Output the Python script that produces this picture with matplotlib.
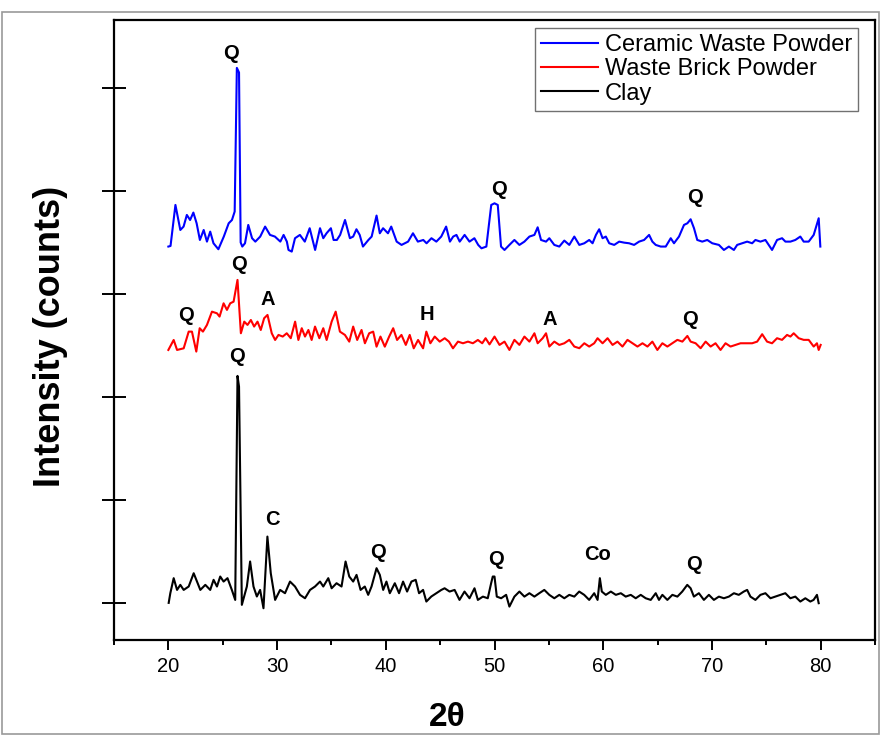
"""
XRD patterns of ceramic waste powder, waste brick powder and clay.
"""

import matplotlib
matplotlib.use('Agg')
import matplotlib.pyplot as plt
from matplotlib.patches import Rectangle
from matplotlib.ticker import MultipleLocator

plt.rcParams['font.family'] = ['Liberation Sans', 'DejaVu Sans']

# Ceramic Waste Powder (stacked on top)
cwp_2theta = [
    20.0, 20.2, 20.65, 21.1, 21.4, 21.7, 22.0, 22.3, 22.6, 22.9, 23.25, 23.55,
    23.85, 24.15, 24.6, 25.1, 25.55, 25.85, 26.1, 26.3, 26.5, 26.65, 26.8,
    27.05, 27.35, 27.7, 28.0, 28.45, 28.9, 29.35, 29.8, 30.3, 30.6, 30.9,
    31.05, 31.35, 31.65, 32.1, 32.55, 33.0, 33.5, 33.95, 34.25, 34.55, 34.95,
    35.2, 35.5, 35.8, 36.25, 36.7, 37.0, 37.3, 37.6, 37.9, 38.4, 38.7, 39.15,
    39.45, 39.75, 40.2, 40.5, 41.0, 41.45, 42.05, 42.5, 42.95, 43.45, 43.75,
    44.2, 44.65, 45.1, 45.55, 45.9, 46.2, 46.5, 46.8, 47.25, 47.7, 48.15,
    48.5, 48.8, 49.25, 49.7, 50.0, 50.3, 50.6, 50.92, 51.37, 51.83, 52.29,
    52.75, 53.21, 53.67, 53.97, 54.28, 54.74, 55.04, 55.5, 55.96, 56.42,
    56.88, 57.34, 57.8, 58.26, 58.71, 59.02, 59.33, 59.63, 59.94, 60.24,
    60.55, 61.01, 61.47, 61.93, 62.38, 62.84, 63.3, 63.76, 64.22, 64.52,
    64.83, 65.29, 65.75, 66.21, 66.51, 66.97, 67.43, 67.74, 68.04, 68.35,
    68.65, 69.11, 69.57, 70.03, 70.64, 71.1, 71.56, 72.02, 72.32, 72.78,
    73.24, 73.7, 74.0, 74.46, 74.92, 75.53, 75.99, 76.45, 76.76, 77.22,
    77.67, 78.13, 78.44, 78.9, 79.36, 79.82, 79.97,
]
cwp_counts = [
    3460, 3466, 3864, 3621, 3654, 3767, 3718, 3790, 3686, 3524, 3621, 3508,
    3605, 3492, 3434, 3557, 3686, 3718, 3800, 5195, 5150, 3500, 3460,
    3492, 3670, 3541, 3508, 3557, 3654, 3573, 3557, 3508, 3573, 3508,
    3427, 3411, 3541, 3573, 3508, 3638, 3427, 3638, 3541, 3589, 3638,
    3524, 3524, 3573, 3718, 3541, 3557, 3628, 3573, 3460, 3524, 3557, 3761,
    3589, 3638, 3589, 3654, 3508, 3476, 3508, 3589, 3508, 3524, 3492,
    3541, 3508, 3557, 3654, 3508, 3557, 3573, 3508, 3573, 3508, 3541,
    3476, 3443, 3460, 3864, 3880, 3864, 3460, 3427, 3476, 3524, 3476,
    3508, 3557, 3573, 3647, 3524, 3508, 3541, 3476, 3460, 3518,
    3476, 3557, 3476, 3492, 3524, 3492, 3573, 3628, 3541, 3557,
    3492, 3476, 3508, 3498, 3492, 3476, 3508, 3524, 3573, 3508,
    3476, 3460, 3460, 3541, 3492, 3557, 3670, 3686, 3725, 3638,
    3524, 3508, 3524, 3492, 3476, 3427, 3460, 3427, 3476, 3492,
    3508, 3492, 3524, 3508, 3524, 3427, 3524, 3541, 3508, 3508,
    3524, 3557, 3508, 3508, 3573, 3735, 3460,
]

# Waste Brick Powder (middle)
wbp_2theta = [
    20.0, 20.49, 20.8, 21.41, 21.87, 22.17, 22.57, 22.88, 23.18, 23.55, 24.01,
    24.47, 24.71, 25.08, 25.39, 25.69, 26.0, 26.36, 26.67, 26.98, 27.28,
    27.59, 27.89, 28.2, 28.5, 28.81, 29.12, 29.51, 29.82, 30.13, 30.52,
    30.89, 31.26, 31.66, 31.96, 32.27, 32.57, 32.88, 33.18, 33.49, 33.89,
    34.25, 34.56, 35.02, 35.39, 35.78, 36.24, 36.64, 37.0, 37.37, 37.77,
    38.08, 38.47, 38.84, 39.15, 39.51, 39.91, 40.31, 40.68, 41.04, 41.44,
    41.84, 42.2, 42.57, 42.97, 43.43, 43.73, 44.1, 44.5, 44.96, 45.42,
    45.81, 46.18, 46.64, 47.1, 47.56, 48.01, 48.47, 48.87, 49.18, 49.54,
    50.0, 50.46, 50.92, 51.37, 51.83, 52.29, 52.75, 53.21, 53.67, 53.97,
    54.43, 54.74, 55.04, 55.5, 55.96, 56.42, 56.88, 57.34, 57.8, 58.26,
    58.71, 59.17, 59.48, 59.94, 60.4, 60.86, 61.31, 61.77, 62.23, 62.69,
    63.15, 63.61, 64.07, 64.52, 64.98, 65.44, 65.9, 66.36, 66.82, 67.28,
    67.74, 68.04, 68.5, 68.96, 69.42, 69.88, 70.33, 70.79, 71.25, 71.71,
    72.17, 72.63, 73.09, 73.7, 74.16, 74.62, 75.07, 75.53, 75.99, 76.45,
    76.91, 77.22, 77.52, 77.98, 78.44, 78.9, 79.36, 79.66, 79.82, 80.0,
]
wbp_counts = [
    2456, 2553, 2456, 2472, 2634, 2634, 2440, 2667, 2634, 2699, 2828,
    2812, 2780, 2909, 2845, 2909, 2925, 3136, 2618, 2731, 2699,
    2747, 2683, 2731, 2650, 2764, 2796, 2618, 2553, 2602, 2586,
    2618, 2570, 2731, 2553, 2667, 2586, 2650, 2553, 2683, 2570,
    2667, 2553, 2731, 2828, 2634, 2602, 2537, 2683, 2553, 2650,
    2521, 2618, 2634, 2488, 2586, 2488, 2586, 2667, 2553, 2602,
    2505, 2602, 2472, 2553, 2472, 2634, 2521, 2586, 2537, 2570,
    2537, 2472, 2537, 2521, 2537, 2521, 2553, 2521, 2570, 2510,
    2586, 2505, 2537, 2456, 2554, 2505, 2586, 2537, 2618, 2521,
    2570, 2618, 2489, 2537, 2505, 2521, 2554, 2489, 2473, 2521,
    2489, 2521, 2570, 2521, 2570, 2505, 2537, 2489, 2554, 2521,
    2489, 2521, 2489, 2537, 2456, 2521, 2489, 2521, 2554, 2537,
    2592, 2537, 2521, 2473, 2537, 2489, 2521, 2456, 2521, 2489,
    2505, 2521, 2521, 2521, 2537, 2609, 2537, 2521, 2570, 2554,
    2602, 2586, 2618, 2570, 2554, 2554, 2489, 2521, 2456, 2505,
]

# Clay (bottom)
clay_2theta = [
    20.03, 20.18, 20.49, 20.8, 21.1, 21.41, 21.87, 22.33, 22.63, 22.94, 23.4,
    23.85, 24.16, 24.47, 24.77, 25.08, 25.44, 25.84, 26.15, 26.36, 26.5,
    26.76, 27.22, 27.52, 27.83, 28.14, 28.44, 28.75, 29.11, 29.42, 29.82,
    30.28, 30.73, 31.19, 31.65, 32.11, 32.57, 33.03, 33.49, 33.95, 34.25,
    34.71, 35.02, 35.47, 35.93, 36.3, 36.64, 37.0, 37.31, 37.68, 38.07,
    38.38, 38.69, 39.15, 39.45, 39.76, 40.06, 40.37, 40.83, 41.22, 41.59,
    41.96, 42.36, 42.75, 43.06, 43.43, 43.73, 44.19, 44.65, 45.11, 45.41,
    45.87, 46.33, 46.78, 47.24, 47.7, 48.16, 48.47, 48.93, 49.38, 49.69,
    49.84, 50.0, 50.21, 50.61, 51.07, 51.37, 51.83, 52.29, 52.75, 53.21,
    53.67, 54.12, 54.58, 55.04, 55.5, 55.96, 56.42, 56.88, 57.34, 57.79,
    58.25, 58.71, 59.17, 59.48, 59.69, 59.87, 60.24, 60.7, 61.16, 61.62,
    62.07, 62.53, 62.99, 63.45, 63.91, 64.37, 64.83, 65.13, 65.44, 65.9,
    66.36, 66.82, 67.27, 67.73, 68.04, 68.34, 68.8, 69.26, 69.72, 70.18,
    70.64, 71.1, 71.56, 72.02, 72.47, 72.93, 73.24, 73.54, 74.0, 74.46,
    74.92, 75.38, 75.84, 76.3, 76.75, 77.21, 77.67, 78.13, 78.59, 79.05,
    79.35, 79.66, 79.82,
]
clay_counts = [
    0, 94, 240, 126, 175, 126, 159, 288, 207, 126, 175,
    126, 224, 159, 256, 207, 240, 126, 29, 2204, 2100,
    -19, 159, 402, 159, 62, 126, -52, 644, 288, 29,
    126, 94, 207, 159, 78, 45, 126, 159, 207, 159,
    240, 142, 191, 159, 402, 256, 207, 272, 126, 159,
    78, 159, 337, 272, 126, 207, 94, 191, 94, 207,
    110, 207, 224, 94, 126, 13, 62, 94, 126, 142,
    110, 126, 29, 110, 45, 142, 29, 61, 45, 191,
    256, 256, 61, 45, 78, -36, 61, 110, 61, 94,
    61, 94, 126, 78, 45, 78, 45, 78, 61, 110,
    78, 29, 94, 29, 240, 110, 78, 110, 78, 94,
    61, 78, 45, 78, 45, 29, 94, 29, 78, 29,
    78, 61, 110, 175, 142, 61, 94, 29, 78, 29,
    61, 45, 61, 94, 78, 110, 126, 61, 29, 78,
    94, 45, 61, 78, 94, 45, 61, 13, 45, 13,
    29, 78, -3,
]

# Phase labels: (2theta, counts, text)
peak_x = [25.8, 50.4, 68.4, 21.65, 26.5, 29.1, 43.76, 55.05, 68.0,
          26.33, 29.54, 39.27, 50.1, 59.45, 68.35]
peak_y = [5330, 4010, 3933, 2787, 3290, 2942, 2797, 2748, 2748,
          2390, 806, 486, 418, 466, 369]
peak_text = ['Q', 'Q', 'Q', 'Q', 'Q', 'A', 'H', 'A', 'Q',
             'Q', 'C', 'Q', 'Q', 'Co', 'Q']


def main():
    fig = plt.figure(figsize=(8.81, 7.35), dpi=100)
    ax = fig.add_axes([0.1294, 0.1293, 0.8638, 0.8435])

    # thin grey frame round the whole picture
    fig.patches.append(Rectangle(
        (0.002, 0.002), 0.996, 0.982, transform=fig.transFigure,
        fill=False, edgecolor='0.6', linewidth=1.2
    ))

    ax.plot(cwp_2theta, cwp_counts, color='#0000ff', lw=1.5,
            label='Ceramic Waste Powder')
    ax.plot(wbp_2theta, wbp_counts, color='#ff0000', lw=1.5,
            label='Waste Brick Powder')
    ax.plot(clay_2theta, clay_counts, color='black', lw=1.5, label='Clay')

    for x, y, t in zip(peak_x, peak_y, peak_text):
        ax.text(x, y, t, ha='center', va='center', fontsize=14.5,
                fontweight='bold')

    ax.set_xlim(15, 85)
    ax.set_ylim(-360, 5660)
    ax.xaxis.set_minor_locator(MultipleLocator(5))
    ax.yaxis.set_major_locator(MultipleLocator(1000))
    ax.set_xticks([20, 30, 40, 50, 60, 70, 80])
    ax.tick_params(axis='x', which='major', direction='out', length=7.5,
                   width=1.4, labelsize=14.5, pad=5)
    ax.tick_params(axis='x', which='minor', direction='out', length=3.5,
                   width=1.4)
    ax.tick_params(axis='y', which='major', direction='inout', length=17,
                   width=1.4, labelleft=False)
    for sp in ax.spines.values():
        sp.set_linewidth(1.6)

    # axis titles placed where the original has them
    fig.text(447 / 881, 1 - 718 / 735, '2θ', fontsize=24, fontweight='bold',
             ha='center', va='center')
    fig.text(51 / 881, 1 - 336 / 735, 'Intensity (counts)', fontsize=26,
             fontweight='bold', rotation=90, ha='center', va='center')

    leg = ax.legend(loc='upper right', bbox_to_anchor=(0.978, 0.987),
                    fontsize=17, frameon=True, fancybox=False,
                    handlelength=2.4, handletextpad=0.3, borderpad=0.25,
                    labelspacing=0.1, borderaxespad=0)
    leg.get_frame().set_edgecolor('0.3')
    leg.get_frame().set_linewidth(1.0)

    fig.savefig('out.png', dpi=100)
    plt.close()


if __name__ == '__main__':
    main()
